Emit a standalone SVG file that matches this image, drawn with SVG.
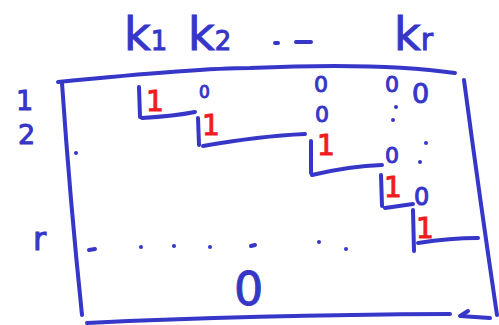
<svg xmlns="http://www.w3.org/2000/svg" width="499" height="325" viewBox="0 0 499 325">
<style>
.ln{fill:none;stroke:#3636c8;stroke-width:4;stroke-linecap:round;stroke-linejoin:round}
.dot{fill:#3636c8}
.b{fill:#3636c8;font-family:"DejaVu Sans",sans-serif;stroke:#3636c8;stroke-width:1}
.r{fill:#ee1c1c;font-family:"DejaVu Sans",sans-serif;stroke:#ee1c1c;stroke-width:1;font-size:28px}
</style>
<rect width="499" height="325" fill="#ffffff"/>
<g id="labels">
<text class="b" x="124" y="50" font-size="46">k<tspan font-size="26">1</tspan></text>
<text class="b" x="188" y="50" font-size="46">k<tspan font-size="26">2</tspan></text>
<path class="ln" d="M275 43 L278 43 M296 42 L311 42"/>
<text class="b" x="394" y="50" font-size="46">k<tspan font-size="30">r</tspan></text>
<text class="b" x="16" y="110" font-size="27">1</text>
<text class="b" x="18" y="144" font-size="27">2</text>
<text class="b" x="33" y="250" font-size="32">r</text>
</g>
<g id="frame">
<path class="ln" d="M58 82 Q200 68 250 68 Q380 62 455 73"/>
<path class="ln" d="M464 80 Q480 200 497 315"/>
<path class="ln" d="M62 83 Q70 200 82 315"/>
<path class="ln" d="M87 323 Q250 315 450 314"/>
<path class="ln" d="M490 318 L460 316 L468 311"/>
</g>
<g id="staircase">
<path class="ln" d="M139 87 L140 117 M142 118 Q175 116 195 112"/>
<path class="ln" d="M198 118 L199 145 M203 146 Q260 136 305 134"/>
<path class="ln" d="M311 141 L311 173 M312 175 Q350 166 382 165"/>
<path class="ln" d="M381 175 L382 206 M385 208 L413 204"/>
<path class="ln" d="M413 210 L414 251 M418 243 Q450 238 478 238"/>
</g>
<g id="ones">
<text class="r" x="146" y="111">1</text>
<text class="r" x="202" y="135">1</text>
<text class="r" x="317" y="155">1</text>
<text class="r" x="384" y="197">1</text>
<text class="r" x="416" y="238">1</text>
</g>
<g id="zeros">
<text class="b" x="199" y="98" font-size="17">0</text>
<text class="b" x="314" y="92" font-size="22">0</text>
<text class="b" x="315" y="122" font-size="22">0</text>
<text class="b" x="385" y="92" font-size="22">0</text>
<text class="b" x="412" y="103" font-size="27">0</text>
<text class="b" x="385" y="163" font-size="22">0</text>
<text class="b" x="414" y="205" font-size="24">0</text>
<text class="b" x="234" y="305" font-size="46">0</text>
</g>
<g id="dots">
<circle class="dot" cx="76" cy="153" r="2"/>
<circle class="dot" cx="396" cy="107" r="2"/>
<circle class="dot" cx="393" cy="120" r="2"/>
<circle class="dot" cx="426" cy="143" r="2"/>
<circle class="dot" cx="420" cy="162" r="2"/>
<path class="ln" d="M89 250 L95 249"/>
<circle class="dot" cx="141" cy="247" r="2"/>
<circle class="dot" cx="174" cy="246" r="2"/>
<circle class="dot" cx="210" cy="247" r="2"/>
<path class="ln" d="M251 246 L255 245"/>
<circle class="dot" cx="319" cy="242" r="2"/>
<circle class="dot" cx="346" cy="249" r="2"/>
</g>
</svg>
